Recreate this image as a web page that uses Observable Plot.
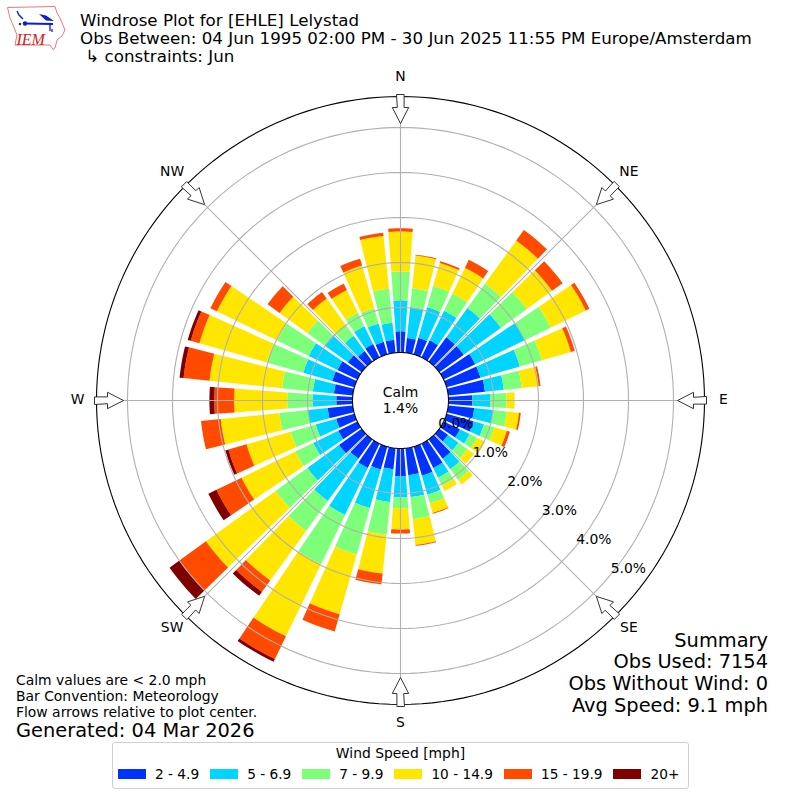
<!DOCTYPE html>
<html>
<head>
<meta charset="utf-8">
<script src="https://cdn.jsdelivr.net/npm/d3@7"></script>
<script src="https://cdn.jsdelivr.net/npm/@observablehq/plot@0.6"></script>
<style>
html,body{margin:0;padding:0;background:#fff;}
#page{position:relative;width:800px;height:800px;overflow:hidden;font-family:"DejaVu Sans",sans-serif;color:#000;}
#page svg{display:block;}
.t{position:absolute;white-space:pre;line-height:1;}
#legend{position:absolute;left:112px;top:742px;width:575px;height:45px;border:1px solid #d0d0d0;border-radius:3px;background:#fff;}
#legendTitle{position:absolute;left:0;right:0;top:2px;text-align:center;font-size:13.9px;line-height:16px;}
#legendRow{position:absolute;left:5px;top:23px;display:flex;align-items:center;font-size:13.7px;line-height:16px;white-space:pre;}
#legendRow i{display:inline-block;width:28px;height:10px;margin-right:9px;}
#legendRow span{margin-right:11px;}
</style>
</head>
<body>
<div id="page"></div>
<script>
// ---- chart values: percent of observations per wind-direction bin and speed class
const directions = [0,10,20,30,40,50,60,70,80,90,100,110,120,130,140,150,160,170,180,190,200,210,220,230,240,250,260,270,280,290,300,310,320,330,340,350];
const speedLabels = ["2 - 4.9","5 - 6.9","7 - 9.9","10 - 14.9","15 - 19.9","20+"];
const speedColors = ["#0033ff","#00d4ff","#7dff7a","#ffe600","#ff4a00","#800000"];
const speed2to5   = [.47,.33,.38,.42,.67,.67,.78,.78,.82,.53,.58,.62,.40,.24,.53,.60,.67,.60,.62,.47,.53,.60,.53,.62,.47,.42,.56,.36,.42,.51,.49,.38,.29,.33,.29,.29];
const speed5to7   = [.69,.69,.71,.73,.80,1.02,1.22,.91,.42,.40,.42,.24,.24,.29,.29,.24,.44,.49,.47,.73,.89,1.16,1.16,.87,.62,.47,.44,.53,.47,.67,.71,.64,.42,.44,.42,.38];
const speed7to10  = [.64,.42,.49,.42,.67,.71,.64,.51,.40,.36,.31,.24,.18,.24,.29,.20,.20,.49,.24,.73,1.07,1.22,.82,.87,.44,.58,.64,.56,.69,.84,.78,.47,.29,.33,.36,.76];
const speed10to15 = [.89,.73,.53,.64,1.18,.69,.87,.67,.38,.18,.27,.29,.20,.18,.13,.13,.22,.58,.47,.87,1.38,1.78,1.36,1.91,1.33,1.02,1.31,1.18,1.62,1.56,1.49,.76,.73,.56,.98,1.18];
const speed15to20 = [.07,.02,.04,.20,.29,.29,.09,.09,.04,0,.04,.07,0,0,0,0,.02,.02,.09,.24,.40,.56,.31,.73,.62,.42,.44,.44,.58,.20,.16,.33,.18,.16,.16,.07];
const speed20up   = [0,0,0,0,0,0,0,0,0,0,0,0,0,0,0,0,0,0,0,0,0,.07,.11,.27,.20,.07,0,.11,.09,.07,0,0,0,0,0,0];
const speedSeries = [speed2to5,speed5to7,speed7to10,speed10to15,speed15to20,speed20up];
const ringValues  = [1,2,3,4,5];
const radialTicks = [0,1,2,3,4,5];
const compassNames = ["N","NE","E","SE","S","SW","W","NW"];
const compassAngles = [0,45,90,135,180,225,270,315];
const calmText = "Calm\n1.4%";

// ---- geometry of the polar frame (percent units; 45px per percent)
const pxPerPct = 45, holePx = 48, outerPx = 304;
const hole = holePx/pxPerPct, rMax = (outerPx-holePx)/pxPerPct;
const half = 400/pxPerPct;
const polar = (v,deg) => { const a = deg*Math.PI/180, r = v+hole; return {x:r*Math.sin(a), y:r*Math.cos(a)}; };
const barWidth = 8.2;
const wedge = (id,deg,v0,v1) => {
  const pts = [], n = 6;
  for (let i=0;i<=n;i++) pts.push({id,...polar(v1,deg-barWidth/2+barWidth*i/n)});
  for (let i=n;i>=0;i--) pts.push({id,...polar(v0,deg-barWidth/2+barWidth*i/n)});
  return pts;
};
const barMarks = speedSeries.map((vals,k) => {
  const pts = [];
  directions.forEach((deg,i) => {
    const v0 = d3.sum(speedSeries.slice(0,k), s => s[i]), v = vals[i];
    if (v>0) pts.push(...wedge(`${k}-${i}`,deg,v0,v0+v));
  });
  return Plot.line(pts,{x:"x",y:"y",z:"id",fill:speedColors[k],stroke:"none",curve:"linear-closed"});
});
const circlePts = (id,v) => d3.range(0,361,2).map(d => ({id,...polar(v,d)}));
const ringPts = ringValues.flatMap(v => circlePts(v,v));
const spokePts = compassAngles.flatMap(d => [{id:d,...polar(0,d)},{id:d,...polar(rMax,d)}]);
// compass arrows: outline described along / across the spoke, px offsets from the rim
const arrowPts = compassAngles.flatMap(d => {
  const a = d*Math.PI/180, ux=Math.sin(a), uy=Math.cos(a), vx=Math.cos(a), vy=-Math.sin(a);
  const shape = [[306,-3.6],[306,3.6],[293,3.6],[293,8.2],[277,0],[293,-8.2],[293,-3.6]];
  return shape.map(([r,w]) => ({id:d,x:(r*ux+w*vx)/pxPerPct,y:(r*uy+w*vy)/pxPerPct}));
});
const labelAngle = 130;
const tickData = radialTicks.map(v => ({label:v.toFixed(1)+"%",...polar(v,labelAngle)}));
const compassData = compassNames.map((name,i) => {
  const a = compassAngles[i]*Math.PI/180, r = 323/pxPerPct;
  return {name,x:r*Math.sin(a),y:r*Math.cos(a)};
});
const font = "DejaVu Sans";
const chart = Plot.plot({
  width:800,height:800,margin:0,
  x:{domain:[-half,half],range:[0,800],axis:null},
  y:{domain:[-half,half],range:[800,0],axis:null},
  style:{background:"transparent",fontFamily:font},
  marks:[
    ...barMarks,
    Plot.line(ringPts,{x:"x",y:"y",z:"id",stroke:"#b0b0b0",strokeWidth:1.1}),
    Plot.line(spokePts,{x:"x",y:"y",z:"id",stroke:"#b0b0b0",strokeWidth:1.1}),
    Plot.line(circlePts("outer",rMax),{x:"x",y:"y",stroke:"#000",strokeWidth:1.1}),
    Plot.line(circlePts("inner",0),{x:"x",y:"y",stroke:"#000",strokeWidth:1.1,fill:"#fff"}),
    Plot.line(arrowPts,{x:"x",y:"y",z:"id",fill:"#fff",stroke:"#333",strokeWidth:1,curve:"linear-closed"}),
    Plot.text(tickData,{x:"x",y:"y",text:"label",textAnchor:"start",lineAnchor:"middle",dx:1,dy:-7.5,fontSize:13.9,fontFamily:font,fill:"#000"}),
    Plot.text(compassData,{x:"x",y:"y",text:"name",textAnchor:"middle",lineAnchor:"middle",dy:-1,fontSize:13.9,fontFamily:font,fill:"#000"}),
    Plot.text([calmText],{x:0,y:0,text:d=>d,textAnchor:"middle",lineAnchor:"middle",lineHeight:1.15,dy:-1,fontSize:13.9,fontFamily:font,fill:"#000"})
  ]
});
const page = document.getElementById("page");
page.appendChild(chart);

// ---- title, notes, summary, logo and legend
const addText = (txt,left,top,size,extra={}) => {
  const d = document.createElement("div");
  d.className="t"; d.textContent=txt;
  d.style.left = left==null?"":left+"px"; d.style.top=top+"px"; d.style.fontSize=size+"px";
  Object.assign(d.style,extra); page.appendChild(d); return d;
};
const titleLines = ["Windrose Plot for [EHLE] Lelystad","Obs Between: 04 Jun 1995 02:00 PM - 30 Jun 2025 11:55 PM Europe/Amsterdam"," \u21b3 constraints: Jun"];
titleLines.forEach((s,i)=>addText(s,80,11.5+18*i,16.7));
const noteLines = ["Calm values are < 2.0 mph","Bar Convention: Meteorology","Flow arrows relative to plot center."];
noteLines.forEach((s,i)=>addText(s,16,674+16*i,13.9));
addText("Generated: 04 Mar 2026",16,721,19.4);
const summaryLines = ["Summary","Obs Used: 7154","Obs Without Wind: 0","Avg Speed: 9.1 mph"];
summaryLines.forEach((s,i)=>addText(s,null,630.5+21.7*i,19.4,{right:"32px"}));

const logoSvg = `<svg xmlns="http://www.w3.org/2000/svg" width="70" height="56" viewBox="0 0 70 56"><path d="M7.5 7.5L55 6.5L57 13L60 18L65 30L62 36L57 40L55 48L53 49.5L50 45L15 45L17 35L13 25L10 18Z" fill="#fff" stroke="#e77" stroke-width="1"/><path d="M25 23.5L53 24" stroke="#0a1fd0" stroke-width="1.8" fill="none"/><path d="M17 11L19 15L23 19" stroke="#0a1fd0" stroke-width="1.4" fill="none"/><path d="M39 14L46 15.5L54 21L46 20.5Z" fill="#0a1fd0"/><circle cx="25" cy="23.5" r="2.2" fill="#0a1fd0"/><circle cx="20" cy="24" r="1.2" fill="#0a1fd0"/><path d="M50 24V31M52 29V32" stroke="#0a1fd0" stroke-width="1.3"/></svg>`;
const logo = document.createElement("img");
logo.alt=""; logo.src="data:image/svg+xml;utf8,"+encodeURIComponent(logoSvg);
Object.assign(logo.style,{position:"absolute",left:"0",top:"0",width:"70px",height:"56px"});
page.appendChild(logo);
addText("IEM",16.5,31.5,16,{fontFamily:'"Liberation Serif",serif',fontStyle:"italic",color:"#d42020"});

const legend = document.createElement("div"); legend.id="legend";
const lt = document.createElement("div"); lt.id="legendTitle"; lt.textContent="Wind Speed [mph]"; legend.appendChild(lt);
const row = document.createElement("div"); row.id="legendRow";
speedLabels.forEach((s,i)=>{
  const sw=document.createElement("i"); sw.style.background=speedColors[i]; row.appendChild(sw);
  const tx=document.createElement("span"); tx.textContent=s; row.appendChild(tx);
});
legend.appendChild(row); page.appendChild(legend);
</script>
</body>
</html>
